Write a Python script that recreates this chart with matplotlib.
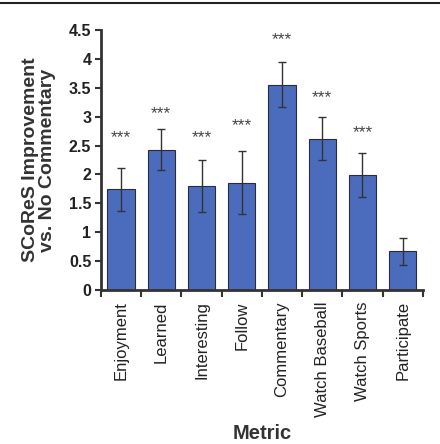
import matplotlib.pyplot as plt
import numpy as np
from matplotlib.lines import Line2D

plt.rcParams["font.family"] = ["Liberation Sans", "DejaVu Sans"]

metrics = ["Enjoyment", "Learned", "Interesting", "Follow",
           "Commentary", "Watch Baseball", "Watch Sports", "Participate"]
improvement = [1.74, 2.43, 1.80, 1.86, 3.55, 2.62, 1.99, 0.67]
err = [0.37, 0.35, 0.45, 0.54, 0.39, 0.37, 0.38, 0.23]
stars = ["***", "***", "***", "***", "***", "***", "***", ""]
star_y = [2.63, 3.06, 2.63, 2.85, 4.34, 3.33, 2.73, 0]

fig = plt.figure(figsize=(4.4, 4.44), dpi=100)
ax = fig.add_axes([0.2295, 0.3468, 0.7315, 0.5856])

x = np.arange(len(metrics))
ax.bar(x, improvement, width=0.68, color="#4b6cbd", edgecolor="#2a2a3a",
       linewidth=0.8, zorder=2)
ax.errorbar(x, improvement, yerr=err, fmt="none", ecolor="#333333",
            elinewidth=1.0, capsize=3, capthick=1.0, zorder=3)
for xi, s, sy in zip(x, stars, star_y):
    if s:
        ax.text(xi, sy, s, ha="center", va="center", fontsize=12.5, color="#444444")

ax.set_xlim(-0.5, len(metrics) - 0.5)
ax.set_ylim(0, 4.5)
ax.set_yticks(np.arange(0, 4.51, 0.5))
ax.set_yticklabels(["0", "0.5", "1", "1.5", "2", "2.5", "3", "3.5", "4", "4.5"],
                   fontsize=11.5, fontweight="bold", color="#222222")
ax.set_xticks(x)
ax.set_xticklabels(metrics, rotation=90, fontsize=12, color="#222222")
ax.tick_params(axis="x", length=0, pad=8)
ax.set_xticks(np.arange(-0.5, len(metrics)), minor=True)
ax.tick_params(axis="x", which="minor", length=5, width=1.5, color="#333333")
ax.tick_params(axis="y", length=4, width=1.5, color="#333333", pad=3)

for side in ["top", "right"]:
    ax.spines[side].set_visible(False)
for side in ["left", "bottom"]:
    ax.spines[side].set_linewidth(2)
    ax.spines[side].set_color("#333333")

ax.set_ylabel("SCoReS Improvement\nvs. No Commentary", fontsize=14,
              fontweight="bold", color="#333333", labelpad=9, linespacing=1.0)
fig.text(0.597, 0.002, "Metric", ha="center", va="bottom", fontsize=14.5,
         fontweight="bold", color="#333333")

fig.add_artist(Line2D([0, 1], [0.994, 0.994], color="#222222", linewidth=1.5,
                      transform=fig.transFigure))

fig.savefig("out.png", dpi=100)
